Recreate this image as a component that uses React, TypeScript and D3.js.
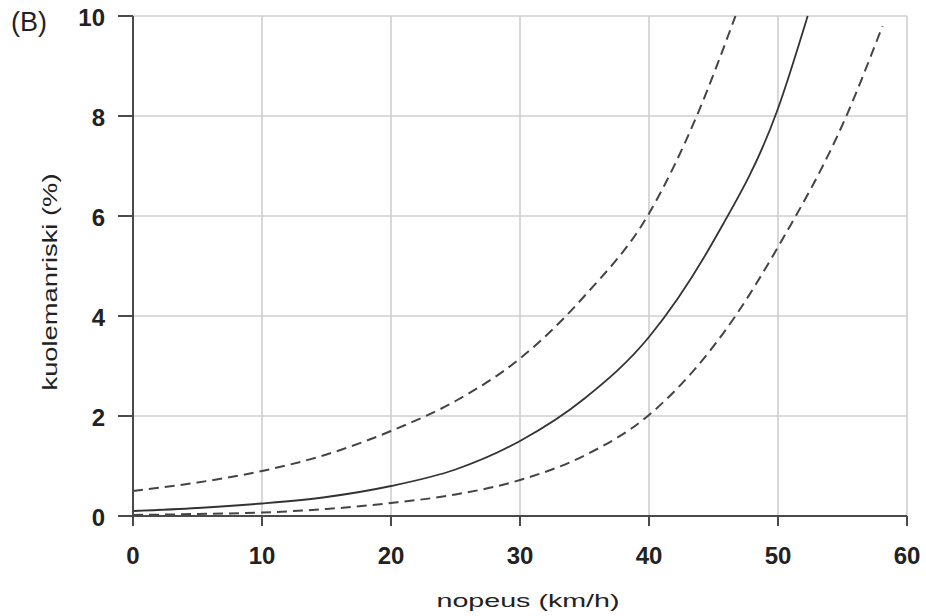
import React from "react";
import * as d3 from "d3";

const xTicks = [0, 10, 20, 30, 40, 50, 60];
const yTicks = [0, 2, 4, 6, 8, 10];

const midSpeed = [0, 5, 10, 15, 20, 25, 30, 35, 40, 45, 50, 52.3];
const midRisk = [0.1, 0.16, 0.25, 0.38, 0.6, 0.93, 1.5, 2.35, 3.58, 5.5, 8.15, 10];

const upSpeed = [0, 5, 10, 15, 20, 25, 30, 35, 40, 43.7, 46.7];
const upRisk = [0.5, 0.67, 0.9, 1.23, 1.7, 2.3, 3.15, 4.4, 6.05, 8, 10];

const lowSpeed = [0, 5, 10, 15, 20, 25, 30, 35, 40, 46.7, 50, 55.3, 58.1];
const lowRisk = [0.02, 0.04, 0.07, 0.14, 0.26, 0.43, 0.72, 1.21, 2.02, 4, 5.38, 8, 9.8];

const W = 926;
const H = 616;
const left = 133;
const right = 907;
const top = 16;
const bottom = 516;

export default function App() {
  const x = d3.scaleLinear().domain([0, 60]).range([left, right]);
  const y = d3.scaleLinear().domain([0, 10]).range([bottom, top]);
  const line = d3
    .line<[number, number]>()
    .x((d) => x(d[0]))
    .y((d) => y(d[1]))
    .curve(d3.curveMonotoneX);
  const zip = (a: number[], b: number[]) => a.map((v, i) => [v, b[i]] as [number, number]);

  const axisColor = "#4a4a4a";
  const gridColor = "#cfcfcf";
  const font = "'Liberation Sans', Arial, sans-serif";

  return (
    <svg
      width={W}
      height={H}
      style={{ position: "absolute", left: 0, top: 0, background: "#fff" }}
    >
      {/* grid */}
      {xTicks.filter((t) => t > 0).map((t) => (
        <line key={"gx" + t} x1={x(t)} x2={x(t)} y1={top} y2={bottom} stroke={gridColor} strokeWidth={1.6} />
      ))}
      {yTicks.filter((t) => t > 0).map((t) => (
        <line key={"gy" + t} x1={left} x2={right} y1={y(t)} y2={y(t)} stroke={gridColor} strokeWidth={1.6} />
      ))}
      {/* curves */}
      <path d={line(zip(upSpeed, upRisk)) || ""} fill="none" stroke="#444" strokeWidth={2} strokeDasharray="10,6" />
      <path d={line(zip(lowSpeed, lowRisk)) || ""} fill="none" stroke="#444" strokeWidth={2} strokeDasharray="10,6" />
      <path d={line(zip(midSpeed, midRisk)) || ""} fill="none" stroke="#333" strokeWidth={1.8} />
      {/* axes */}
      <line x1={left} x2={left} y1={top} y2={bottom + 10} stroke={axisColor} strokeWidth={2} />
      <line x1={left - 15} x2={right} y1={bottom} y2={bottom} stroke={axisColor} strokeWidth={2} />
      {yTicks.map((t) => (
        <g key={"yt" + t}>
          <line x1={left - 15} x2={left} y1={y(t)} y2={y(t)} stroke={axisColor} strokeWidth={2} />
          <text
            x={105}
            y={y(t) + 1}
            textAnchor="end"
            dominantBaseline="central"
            fontFamily={font}
            fontWeight="bold"
            fontSize={24}
            fill="#222"
          >
            {t}
          </text>
        </g>
      ))}
      {xTicks.map((t) => (
        <g key={"xt" + t}>
          <line x1={x(t)} x2={x(t)} y1={bottom} y2={bottom + 10} stroke={axisColor} strokeWidth={2} />
          <text
            x={x(t)}
            y={555}
            textAnchor="middle"
            dominantBaseline="central"
            fontFamily={font}
            fontWeight="bold"
            fontSize={24}
            fill="#222"
          >
            {t}
          </text>
        </g>
      ))}
      <text x={11} y={22} dominantBaseline="central" fontFamily={font} fontSize={27} fill="#222">
        (B)
      </text>
      <text
        x={528}
        y={600}
        textAnchor="middle"
        dominantBaseline="central"
        fontFamily={font}
        fontSize={19}
        textLength={183}
        lengthAdjust="spacingAndGlyphs"
        fill="#222"
      >
        nopeus (km/h)
      </text>
      <text
        transform={`translate(49,282) rotate(-90)`}
        textAnchor="middle"
        dominantBaseline="central"
        fontFamily={font}
        fontSize={21}
        textLength={217}
        lengthAdjust="spacingAndGlyphs"
        fill="#222"
      >
        kuolemanriski (%)
      </text>
    </svg>
  );
}
